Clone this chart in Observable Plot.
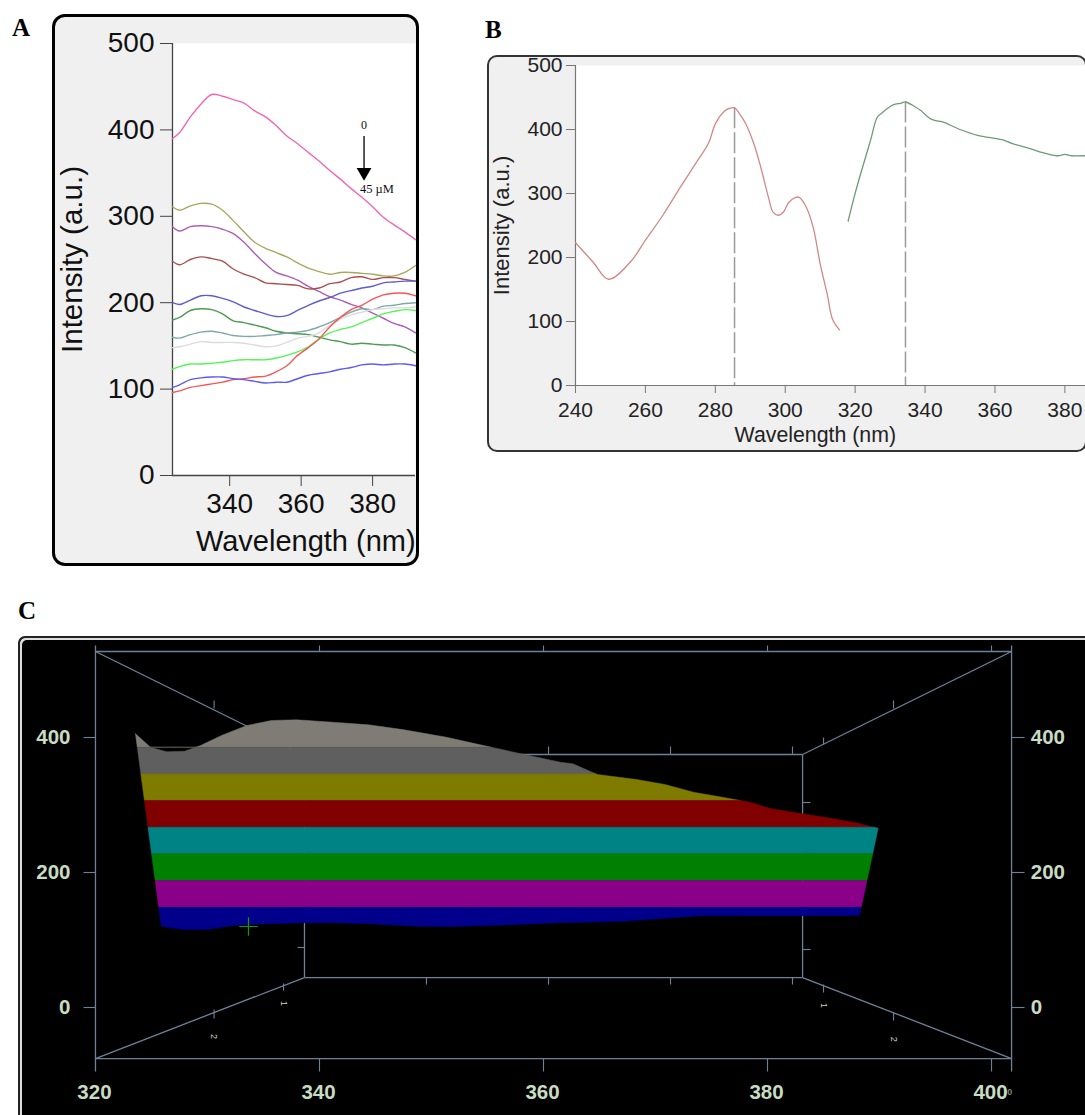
<!DOCTYPE html>
<html><head><meta charset="utf-8">
<script src="https://cdn.jsdelivr.net/npm/d3@7"></script>
<script src="https://cdn.jsdelivr.net/npm/@observablehq/plot@0.6"></script>
<style>
html,body{margin:0;padding:0;background:#fff;overflow:hidden}
body{position:relative;width:1085px;height:1115px;font-family:"Liberation Sans",Arial,sans-serif}
.letter{position:absolute;font:bold 25px "Liberation Serif",serif;color:#000;line-height:1}
.frame{position:absolute;box-sizing:border-box;background:#f0f0f0}
.slot{position:absolute}
svg{background:transparent!important;display:block;overflow:visible!important}
</style></head><body>
<div class="letter" style="left:12px;top:15px">A</div>
<div class="letter" style="left:485px;top:17px">B</div>
<div class="letter" style="left:18px;top:598px">C</div>
<div class="frame" style="left:52px;top:14px;width:367px;height:552px;border:3.5px solid #000;border-radius:13px"></div>
<div class="frame" style="left:487px;top:55px;width:600px;height:397px;border:2px solid #333;border-radius:10px"></div>
<div class="frame" style="left:18px;top:636px;width:1075px;height:490px;border:2px solid #222;border-radius:7px;background:#000;box-shadow:inset 2px 2px 0 #ddd"></div>
<div class="slot" id="a" style="left:53px;top:15px"></div>
<div class="slot" id="b" style="left:488px;top:56px"></div>
<div class="slot" id="c" style="left:0;top:637px"></div>
<script>
// Panel A: titration emission spectra
const waveA = [324,326,329,332,335,338,341,344,347,350,353,356,359,362,365,368,371,374,377,380,383,386,389,392];
const pink   = [390,397,415,430,441,439,435,431,422,415,405,393,384,374,364,353,343,332,322,311,299,290,282,273];
const olive  = [311,307,312,315,314,307,295,282,270,263,258,253,246,240,236,233,235,235,234,233,231,231,235,243];
const violet = [288,283,288,289,288,285,280,270,257,245,235,231,226,219,213,207,203,198,194,188,182,176,172,165];
const brown  = [248,244,250,253,251,248,239,233,229,223,222,221,220,216,217,222,224,229,230,227,229,229,227,225];
const indigo = [200,198,203,208,208,205,201,195,191,187,184,185,191,197,202,206,211,214,217,219,223,224,225,225];
const forest = [180,183,191,193,192,187,179,177,174,171,167,165,164,163,160,157,155,152,153,152,151,151,148,142];
const teal   = [160,159,163,166,167,165,162,161,161,162,163,165,166,168,172,177,183,189,193,192,196,197,199,200];
const silver = [148,149,152,155,154,154,154,153,151,149,150,154,159,161,165,174,181,186,189,192,193,194,194,195];
const lime   = [123,126,129,129,130,131,133,134,134,134,136,139,143,149,158,165,169,172,177,182,187,190,192,191];
const red    = [96,98,102,104,106,108,111,112,114,115,120,127,139,148,158,172,183,192,197,204,209,211,211,208];
const blue   = [102,105,111,113,114,114,112,111,109,107,108,108,112,116,118,120,123,125,128,129,128,129,129,127];
const seriesA = [
  [pink,"#f266b3"],[olive,"#aaa75e"],[violet,"#ae5fb5"],[brown,"#a8504f"],[indigo,"#5c5cd0"],
  [forest,"#4f9a55"],[teal,"#7fa8a8"],[silver,"#dcdcdc"],[lime,"#55f555"],[red,"#f85555"],[blue,"#5a5af5"]
];
const ticksA = [0,100,200,300,400,500];
const ticksAX = [340,360,380];

const mono = d => d;
const sans = "'Liberation Sans',Arial,sans-serif";
document.getElementById("a").append(Plot.plot({
  width:365,height:550,marginLeft:119,marginRight:3,marginTop:28,marginBottom:90,
  style:{fontFamily:sans,background:"transparent",color:"#111"},
  x:{domain:[324,392]},y:{domain:[0,500]},
  marks:[
    Plot.frame({fill:"#fff",stroke:null}),
    Plot.ruleX([324],{stroke:"#444",strokeWidth:1.3}),
    Plot.ruleY([0],{stroke:"#444",strokeWidth:1.3}),
    Plot.axisY({ticks:ticksA,fontSize:28,tickSize:12,tickPadding:6,stroke:"#444",label:null,color:"#111"}),
    Plot.axisX({ticks:ticksAX,fontSize:28,tickSize:11,tickPadding:7,stroke:"#444",tickFormat:mono,label:null,color:"#111"}),
    Plot.text(["Intensity (a.u.)"],{x:[296],y:[250],text:mono,rotate:-90,fontSize:29.5,fill:"#111"}),
    Plot.text(["Wavelength (nm)"],{x:[361.3],y:[-77],text:mono,fontSize:29,fill:"#111"}),
    ...seriesA.map(([vals,col])=>Plot.line(waveA,{x:mono,y:(d,i)=>vals[i],stroke:col,strokeWidth:1.4,curve:"catmull-rom"})),
    Plot.link([377.6],{x1:mono,x2:mono,y1:[393],y2:[352],stroke:"#000",strokeWidth:1.3}),
    Plot.dot([377.6],{x:mono,y:[351],symbol:"triangle",rotate:[180],r:5.5,fill:"#000",stroke:"none"}),
    Plot.text(["0"],{x:[377.6],y:[406],text:mono,fontFamily:"'Liberation Serif',serif",fontSize:12,fill:"#111"}),
    Plot.text(["45 µM"],{x:[381.2],y:[332],text:mono,fontFamily:"'Liberation Serif',serif",fontSize:12.5,fill:"#111"})
  ]
}));

// Panel B: excitation and emission spectra
const exWave = [240,245,249.5,256,260,265,270,275,278,280.1,282.5,284,285.5,287,288.7,291,293,295.3,296.5,298,299.5,301,303,304,306,308,310,312,313.5,315.5];
const exInt  = [223,193,166,195,227,266,310,352,378,410,428,433,434,424,409,378,341,292,271,266,271,286,294,294,279,247,190,143,104,87];
const emWave = [318,319.6,321,323,324.5,326.3,327.5,329,331,333,334.4,337,338.7,341.5,343,345,350,355,360,362,365,370,375,378,380,382,385.9];
const emInt  = [257,292,320,357,385,419,425,432,439,441,443,436,430,417,414,412,400,391,386,384,378,370,362,359,361,359,359];
const peaks = [[285.5,434],[334.4,443]];
const ticksBX = [240,260,280,300,320,340,360,380];
const ticksBY = [0,100,200,300,400,500];

document.getElementById("b").append(Plot.plot({
  width:597,height:395,marginLeft:87,marginRight:0,marginTop:9,marginBottom:66,
  style:{fontFamily:sans,background:"transparent",color:"#111"},
  x:{domain:[240,385.9]},y:{domain:[0,500]},
  marks:[
    Plot.frame({fill:"#fff",stroke:null}),
    Plot.ruleX([240],{stroke:"#777",strokeWidth:1.2}),
    Plot.ruleY([0],{stroke:"#777",strokeWidth:1.2}),
    Plot.axisY({ticks:ticksBY,fontSize:21,tickSize:9,tickPadding:4,stroke:"#777",label:null,color:"#222"}),
    Plot.axisX({ticks:ticksBX,fontSize:21,tickSize:8,tickPadding:9,stroke:"#777",tickFormat:mono,label:null,color:"#222"}),
    Plot.text(["Intensity (a.u.)"],{x:[218.9],y:[250],text:mono,rotate:-90,fontSize:22,fill:"#222"}),
    Plot.text(["Wavelength (nm)"],{x:[308.6],y:[-78],text:mono,fontSize:21.3,fill:"#222"}),
    Plot.ruleX(peaks,{x:"0",y1:"1",y2:0,stroke:"#999",strokeWidth:1.5,strokeDasharray:"21 4"}),
    Plot.line(exWave,{x:mono,y:(d,i)=>exInt[i],stroke:"#cf8a86",strokeWidth:1.3,curve:"catmull-rom"}),
    Plot.line(emWave,{x:mono,y:(d,i)=>emInt[i],stroke:"#6f9a78",strokeWidth:1.3,curve:"catmull-rom"})
  ]
}));

// Panel C: 3D stacked surface
const topWave = [323.57,324.91,326.34,327.95,329.38,331.25,333.52,335.71,337.95,341.16,344.38,347.55,351.34,354.25,357.77,361.52,362.63,364.82,368.3,370.85,373.39,375.59,378.44,380.33,382.54,385.09,387.92,389.88];
const topInt  = [405.5,385.6,378.8,379.7,388.1,403,417.8,425.2,426.2,422.7,418.8,411.4,400.4,389.6,376.7,363.4,361,345.2,337.8,330.4,319,312.6,304.1,294.4,288.4,281.9,273.6,265.6];
const botWave = [325.87,327.77,330,332.23,333.84,338.63,341.16,344.38,348.84,351.7,356.16,361.52,367.05,374.02,388.21];
const botInt  = [120.4,115.6,115.6,121.5,123,125.5,125.5,124,120.4,120,122,125.5,127.9,135.9,136.3];
const bandEdges = [500,385.6,346,306.7,267,227.7,188,148.6,100];
const bandColors = ["#7e7c75","#5f5f5f","#7f7b00","#800000","#008384","#008000","#8a0088","#00008a"];
const frontBox = [[320,527.4,401.79,527.4],[320,-75.6,401.79,-75.6],[320,536.3,320,-94.8],[401.79,536.3,401.79,-94.8]];
const backBox = [[338.66,374.8,383.13,374.8],[338.66,44.4,383.13,44.4],[338.66,374.8,338.66,44.4],[383.13,374.8,383.13,44.4]];
const cornerEdges = [[320,527.4,338.66,374.8],[401.79,527.4,383.13,374.8],[320,-75.6,338.66,44.4],[401.79,-75.6,383.13,44.4]];
const edgeTicks = [
  [340,527.4,340,536.3],[360,527.4,360,536.3],[380,527.4,380,536.3],[400,527.4,400,536.3],
  [340,-75.6,340,-94.8],[360,-75.6,360,-94.8],[380,-75.6,380,-94.8],[400,-75.6,400,-94.8],
  [320,400,318.93,400],[320,200,318.93,200],[320,0,318.93,0],
  [401.79,400,402.95,400],[401.79,200,402.95,200],[401.79,0,402.95,0],
  [360.45,374.8,360.45,386.7],[371.34,374.8,371.34,386.7],[382.23,374.8,382.23,386.7],
  [349.55,44.4,349.55,34],[360.45,44.4,360.45,34],[371.34,44.4,371.34,34],[382.23,44.4,382.23,34],
  [383.13,303.7,383.84,303.7],[383.13,85.9,383.84,85.9],[338.66,88.9,338.04,88.9],
  [330.59,454.8,330.59,443],[391.25,454.8,391.25,443],[385,400,385,389.6],
  [330.59,-3,330.59,-16.3],[336.79,35.6,336.79,25.2],[385,34,385,22.2],[391.25,-7.4,391.25,-19.3]
];
const yLabelsC = [0,200,400];
const xLabelsC = [320,340,360,380,400];
const depthLabels = [[330.59,"2",-43],[336.79,"1",6],[385,"1",3],[391.25,"2",-47]];
const cursor = [[333.66,120]];

const silhouette = [
  ...topWave.map((w,i)=>[w,topInt[i]]),
  ...botWave.map((w,i)=>[w,botInt[i]]).reverse()
];
function clipAt(poly,level,keepBelow){
  const inside = p => keepBelow ? p[1] <= level : p[1] >= level;
  const out = [];
  poly.forEach((p,i)=>{
    const q = poly[(i+1)%poly.length];
    if (inside(p)) out.push(p);
    if (inside(p)!==inside(q)) {
      const t = (level-p[1])/(q[1]-p[1]);
      out.push([p[0]+t*(q[0]-p[0]),level]);
    }
  });
  return out;
}
const bandPolys = bandColors.map((c,i)=>clipAt(clipAt(silhouette,bandEdges[i],true),bandEdges[i+1],false));
const axisC = "#6d8299", labelC = "#c8dcc2";
const seg = (rows,w)=>Plot.link(rows,{x1:"0",y1:"1",x2:"2",y2:"3",stroke:axisC,strokeWidth:w});

document.getElementById("c").append(Plot.plot({
  width:1085,height:478,margin:0,
  style:{fontFamily:sans,background:"transparent"},
  x:{domain:[311.52,408.39],range:[0,1085],axis:null},
  y:{domain:[-160,548.15],range:[478,0],axis:null},
  marks:[
    seg(backBox,1.3),seg(cornerEdges,1.3),seg(frontBox,1.3),seg(edgeTicks,1.1),
    ...bandPolys.map((poly,i)=>Plot.line(poly.concat([poly[0]]),{x:"0",y:"1",fill:bandColors[i],stroke:bandColors[i],strokeWidth:.5})),
    Plot.dot(cursor,{x:"0",y:"1",symbol:"plus",r:6,stroke:"#0a9a0a",strokeWidth:1.2}),
    Plot.text(yLabelsC,{x:317.77,y:mono,text:mono,textAnchor:"end",fill:labelC,fontWeight:"bold",fontSize:20.5}),
    Plot.text(yLabelsC,{x:403.5,y:mono,text:mono,textAnchor:"start",fill:labelC,fontWeight:"bold",fontSize:20.5}),
    Plot.text(xLabelsC,{x:mono,y:-125.5,dx:-1,text:mono,fill:labelC,fontWeight:"bold",fontSize:20.5}),
    Plot.text(["0"],{x:[401.4],y:[-125.5],text:mono,textAnchor:"start",fill:labelC,fontWeight:"bold",fontSize:9,opacity:.6}),
    Plot.text(depthLabels,{x:"0",y:"2",text:"1",rotate:90,fill:labelC,fontSize:9})
  ]
}));
</script>
</body></html>
